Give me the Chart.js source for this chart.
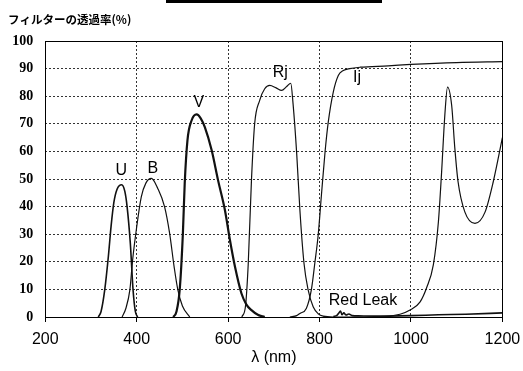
<!DOCTYPE html>
<html>
<head>
<meta charset="utf-8">
<script src="https://cdn.jsdelivr.net/npm/chart.js@4/dist/chart.umd.min.js"></script>
<style>
  html, body { margin: 0; padding: 0; background: #fff; }
  #wrap { position: relative; width: 523px; height: 371px; }
  #topBar { position: absolute; left: 166px; top: 0; width: 216px; height: 3px; background: #000; }
  canvas { position: absolute; left: 0; top: 0; }
</style>
</head>
<body>
<div id="wrap">
  <canvas id="filterChart" width="523" height="371"></canvas>
  <div id="topBar"></div>
</div>
<script>
// transmission curves, wavelength (nm) vs transmission (%)
const uWave = [316, 322, 330, 338, 344, 350, 357, 367, 374, 379, 386, 392, 397, 402];
const uTrans = [0, 2, 9.8, 22, 33, 41.5, 46.3, 47.9, 45.5, 39.9, 26.7, 9.8, 2, 0];

const bWave = [368, 376, 385, 391, 400, 410, 420, 432, 446, 461, 472, 482, 490, 500, 516];
const bTrans = [0, 3, 9.8, 20.6, 32.7, 43.5, 48.5, 50.2, 46.6, 39.9, 30.3, 18, 9.8, 4, 0];

const vWave = [480, 487, 494, 501, 505, 511, 520, 531, 540, 549, 564, 578, 593, 604, 615, 629, 640, 651, 665, 680];
const vTrans = [0, 2, 9.8, 30.3, 48.4, 64, 71.2, 73.4, 72, 68.8, 60.4, 49.5, 38.7, 27.8, 18.2, 8.6, 4.5, 2.5, 0.8, 0];

const rjWave = [630, 638, 644, 651, 658, 669, 680, 691, 705, 717, 728, 737, 742, 750, 757, 766, 775, 786, 797, 808, 830, 900, 976,
  998, 1020, 1034, 1049, 1060, 1067, 1074, 1080, 1089, 1096, 1103, 1118, 1140, 1162, 1180, 1200];
const rjTrans = [0, 4, 19.4, 49.5, 70, 78.5, 82.7, 83.9, 83, 82.1, 83.5, 84.7, 77.3, 59.2, 38.7, 19.4, 9.8, 3.7, 1.2, 0.3, 0, 0, 1,
  2.5, 5.5, 10.5, 19, 34.5, 52.5, 73, 83.3, 76.7, 61, 49, 38, 33.9, 38, 49, 65];

const ijWave = [735, 750, 757, 771, 782, 790, 797, 804, 812, 819, 830, 841, 852, 866, 889, 950, 1000, 1100, 1200];
const ijTrans = [0, 0.5, 1.3, 3.1, 9.8, 20, 29.7, 44, 59.8, 70.6, 81.5, 87.5, 89.3, 90, 90.5, 91, 91.5, 92.2, 92.5];

const leakWave = [830, 838, 843, 846, 849, 853, 858, 864, 872, 885, 920, 1000, 1060, 1120, 1200];
const leakTrans = [0.2, 0.6, 1.6, 2.2, 0.8, 1.5, 0.7, 1.1, 0.5, 0.4, 0.3, 0.5, 0.8, 1.0, 1.5];

const xTicks = [200, 400, 600, 800, 1000, 1200];
const yTicks = [0, 10, 20, 30, 40, 50, 60, 70, 80, 90, 100];

// curve names written on the plot, at (nm, %)
const labelText = ["U", "B", "V", "Rj", "Ij", "Red Leak"];
const labelNm = [366, 435, 536, 714, 882, 895];
const labelPct = [53, 53.8, 77.7, 88.6, 86.8, 6.1];

function toPoints(xs, ys) {
  return xs.map((x, i) => ({ x, y: ys[i] }));
}

function curve(label, xs, ys, width) {
  return {
    label,
    data: toPoints(xs, ys),
    borderColor: "#111",
    borderWidth: width,
    pointRadius: 0,
    fill: false,
    cubicInterpolationMode: "monotone",
  };
}

const frameAndText = {
  id: "frameAndText",
  afterDatasetsDraw(chart) {
    const { ctx, chartArea: a, scales } = chart;
    ctx.save();
    ctx.strokeStyle = "#000";
    ctx.lineWidth = 1;
    ctx.strokeRect(Math.round(a.left) + 0.5, Math.round(a.top) + 0.5, Math.round(a.right - a.left), Math.round(a.bottom - a.top));

    ctx.fillStyle = "#000";
    ctx.font = "16px 'Liberation Sans', Arial, sans-serif";
    ctx.textAlign = "center";
    ctx.textBaseline = "middle";
    labelText.forEach((t, i) => {
      ctx.fillText(t, scales.x.getPixelForValue(labelNm[i]), scales.y.getPixelForValue(labelPct[i]));
    });

    ctx.font = "bold 11.5px 'Noto Sans CJK JP', sans-serif";
    ctx.textAlign = "left";
    ctx.fillText("フィルターの透過率(%)", 8, 20);
    ctx.restore();
  },
};

const hideEdge = (min, max) => (c) =>
  c.tick && (c.tick.value === min || c.tick.value === max) ? "rgba(0,0,0,0)" : "#333";

new Chart(document.getElementById("filterChart"), {
  type: "line",
  data: {
    datasets: [
      curve("U", uWave, uTrans, 1.6),
      curve("B", bWave, bTrans, 1.2),
      curve("V", vWave, vTrans, 2.2),
      curve("Rj", rjWave, rjTrans, 1.2),
      curve("Ij", ijWave, ijTrans, 1.2),
      curve("Red Leak", leakWave, leakTrans, 1.6),
    ],
  },
  options: {
    responsive: false,
    animation: false,
    layout: { padding: { top: 41, right: 20.6, left: 0, bottom: 0 } },
    plugins: { legend: { display: false }, tooltip: { enabled: false } },
    scales: {
      x: {
        type: "linear",
        min: 200,
        max: 1200,
        afterBuildTicks: (s) => { s.ticks = xTicks.map((v) => ({ value: v })); },
        afterFit: (s) => {
          s.height = 54;
          s.paddingLeft = 0;
          s.paddingRight = 0;
        },
        grid: { color: hideEdge(200, 1200), tickColor: "#000", tickLength: 5, lineWidth: 1 },
        border: { display: false, dash: [2, 2] },
        ticks: {
          color: "#000",
          padding: 8,
          maxRotation: 0,
          callback: (v) => String(v),
          font: { family: "'Liberation Sans', Arial, sans-serif", size: 16 },
        },
        title: {
          display: true,
          text: "λ (nm)",
          color: "#000",
          padding: { top: 0, bottom: 4 },
          font: { family: "'Liberation Sans', Arial, sans-serif", size: 16 },
        },
      },
      y: {
        min: 0,
        max: 100,
        afterBuildTicks: (s) => { s.ticks = yTicks.map((v) => ({ value: v })); },
        afterFit: (s) => {
          s.width = 45.3;
          s.paddingTop = 0;
          s.paddingBottom = 0;
        },
        grid: { color: hideEdge(0, 100), drawTicks: false, lineWidth: 1 },
        border: { display: false, dash: [2, 2] },
        ticks: {
          color: "#000",
          padding: 12,
          font: { family: "'Liberation Serif', 'Times New Roman', serif", size: 14, weight: "bold" },
        },
      },
    },
  },
  plugins: [frameAndText],
});
</script>
</body>
</html>
